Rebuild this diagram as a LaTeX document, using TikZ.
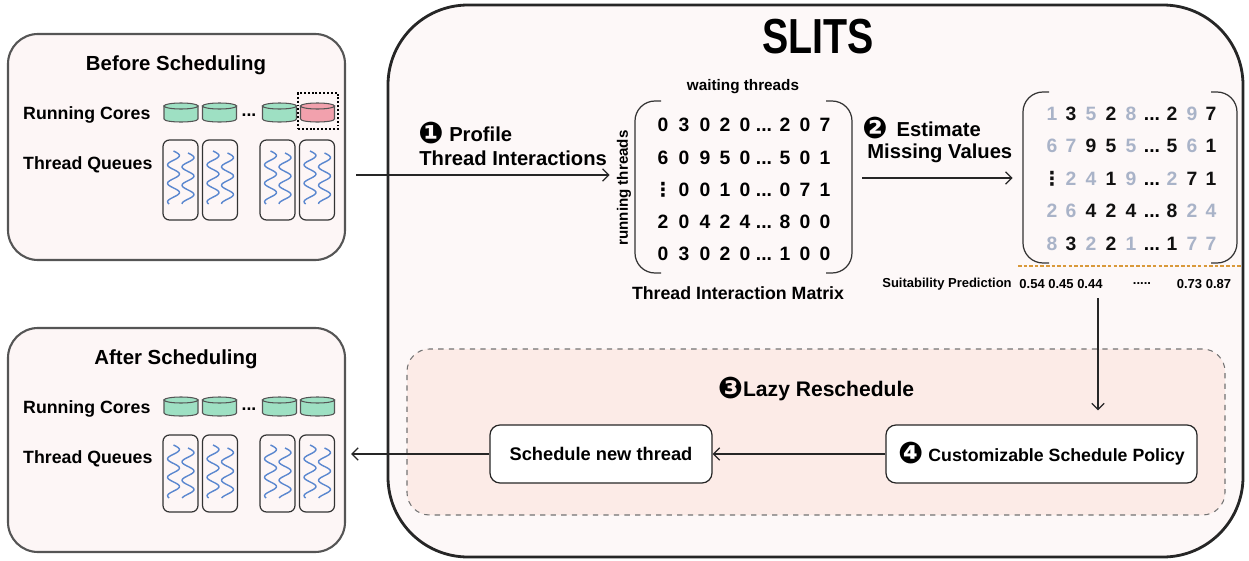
\documentclass[tikz,border=0pt]{standalone}
\usepackage{fontspec}
\usepackage{graphicx}
\setmainfont{Liberation Sans}
\newfontfamily\dejavu{DejaVu Sans}
\newcommand\circnum[1]{\raisebox{-0.12em}{\dejavu\fontsize{17}{17}\selectfont #1}}
\usetikzlibrary{arrows.meta}
\definecolor{boxline}{HTML}{555555}
\definecolor{panelfill}{HTML}{FDF6F6}
\definecolor{slitsfill}{HTML}{FDF8F8}
\definecolor{lazyfill}{HTML}{FCEBE7}
\definecolor{coregreen}{HTML}{9EE0C3}
\definecolor{corered}{HTML}{F2A1AD}
\definecolor{wavecol}{HTML}{5A87CF}
\definecolor{cg}{HTML}{A9B3C8}
\definecolor{ck}{HTML}{111111}
\definecolor{orangedash}{HTML}{D9993A}
\tikzset{
  pics/core/.style={code={
    \filldraw[fill=#1, draw=boxline, line width=0.6pt]
      (-17,-6) -- (-17,7) .. controls (-17,11) and (17,11) .. (17,7) -- (17,-6) -- cycle;
    \filldraw[fill=#1, draw=boxline, line width=0.6pt] (0,-6) ellipse [x radius=17, y radius=3];
  }},
  pics/wave/.style={code={
    \draw[wavecol, line width=0.8pt] plot[smooth, domain=0:#1, samples=40] ({6*sin(\x*19.5)},\x);
  }}
}
\begin{document}
\begin{tikzpicture}[x=0.02cm,y=-0.02cm, font=\bfseries,
  panel/.style={draw=boxline, line width=1.2pt, fill=panelfill, rounded corners=0.6cm, inner sep=0},
  title/.style={font=\bfseries\fontsize{11.6}{14}\selectfont},
  rowlab/.style={font=\bfseries\fontsize{10.1}{12}\selectfont, anchor=west},
  queue/.style={draw=black!80, line width=0.7pt, rounded corners=0.13cm, minimum width=35*0.02cm, inner sep=0},
  steplab/.style={font=\bfseries\fontsize{11.5}{14}\selectfont, anchor=west, inner sep=0},
  num/.style={font=\bfseries\fontsize{11}{13}\selectfont, inner sep=0, anchor=base},
  paren/.style={draw=black!80, line width=0.7pt, rounded corners=0.4cm},
  arr/.style={draw=black!85, line width=0.75pt, -{Straight Barb[length=3.5pt,width=7pt]}},
  inbox/.style={draw=black!85, line width=0.7pt, fill=white, rounded corners=0.2cm, minimum height=58*0.02cm, inner sep=0},
  small/.style={font=\bfseries\fontsize{7.4}{9}\selectfont, inner sep=0}
]
\useasboundingbox (0,0) rectangle (1249,561);

% ---------- SLITS main box ----------
\node[draw=black!85, line width=1.6pt, fill=slitsfill, rounded corners=1.6cm, inner sep=0,
      minimum width=855*0.02cm, minimum height=552*0.02cm] (slits) at (815.5,281) {};
\node[font=\bfseries\fontsize{28}{30}\selectfont] (slitstitle) at (818,37) {\scalebox{0.8}[1]{SLITS}};

% ---------- Before panel ----------
\node[panel, minimum width=337*0.02cm, minimum height=226*0.02cm] (before) at (176.5,147) {};
\node[title] (beforetitle) at (176,65) {Before Scheduling};
\node[rowlab] (brc) at (17,115) {Running Cores};
\node[rowlab] (btq) at (17,165) {Thread Queues};
\pic at (181,112) {core=coregreen};
\pic at (219.5,112) {core=coregreen};
\node[font=\bfseries\fontsize{10}{12}\selectfont, anchor=base, inner sep=0] (bdots) at (249,116) {...};
\pic at (279.5,112) {core=coregreen};
\pic at (317.5,112) {core=corered};
\node[draw=black, line width=0.9pt, dash pattern=on 1.1pt off 1.1pt, minimum width=40*0.02cm,
      minimum height=36*0.02cm, inner sep=0] (sel) at (318,111) {};
\foreach \qx [count=\i] in {180.5,220,277.5,317}{
  \node[queue, minimum height=80*0.02cm] (bq\i) at (\qx,180) {};
  \pic at (\qx-7,151) {wave=53};
  \pic at (\qx+7.5,153) {wave=51};
}

% ---------- After panel ----------
\node[panel, minimum width=337*0.02cm, minimum height=224*0.02cm] (after) at (176.5,440) {};
\node[title] (aftertitle) at (176,359) {After Scheduling};
\node[rowlab] (arc) at (17,409) {Running Cores};
\node[rowlab] (atq) at (17,459) {Thread Queues};
\pic at (181,406) {core=coregreen};
\pic at (219.5,406) {core=coregreen};
\node[font=\bfseries\fontsize{10}{12}\selectfont, anchor=base, inner sep=0] (adots) at (249,410) {...};
\pic at (279.5,406) {core=coregreen};
\pic at (317.5,406) {core=coregreen};
\foreach \qx [count=\i] in {180.5,220,277.5,317}{
  \node[queue, minimum height=77*0.02cm] (aq\i) at (\qx,473.5) {};
  \pic at (\qx-7,445) {wave=53};
  \pic at (\qx+7.5,448) {wave=50};
}

% ---------- Matrix 1 ----------
\node[inner sep=0, minimum width=217*0.02cm, minimum height=172*0.02cm] (m1) at (743.5,187) {};
\draw[paren] (661,101) -- (635,101) -- (635,273) -- (661,273);
\draw[paren] (826,101) -- (852,101) -- (852,273) -- (826,273);
\node[font=\bfseries\fontsize{8.7}{10}\selectfont] (wt) at (743,87) {waiting threads};
\node[font=\bfseries\fontsize{8.6}{10}\selectfont, rotate=90] (rt) at (624,188) {running threads};
\node[font=\bfseries\fontsize{10.1}{12}\selectfont] (tim) at (738,293) {Thread Interaction Matrix};
\foreach \row [count=\r] in {{0,3,0,2,0,2,0,7},{6,0,9,5,0,5,0,1},{{\dejavu ⋮},0,0,1,0,0,7,1},{2,0,4,2,4,8,0,0},{0,3,0,2,0,1,0,0}}{
  \pgfmathsetmacro\yy{125+(\r-1)*32+7}
  \foreach \v [count=\c] in \row {
    \pgfmathsetmacro\xx{{663,684,705,725,745,785,805,825}[\c-1]}
    \node[num] (ma\r-\c) at (\xx,\yy) {\v};
  }
  \node[num] (ma\r-d) at (764,\yy) {...};
}

% ---------- Matrix 2 ----------
\node[inner sep=0, minimum width=214*0.02cm, minimum height=171*0.02cm] (m2) at (1130,177.5) {};
\draw[paren] (1049,92) -- (1023,92) -- (1023,263) -- (1049,263);
\draw[paren] (1211,92) -- (1237,92) -- (1237,263) -- (1211,263);
\foreach \row [count=\r] in {
  {cg/1,ck/3,cg/5,ck/2,cg/8,ck/2,cg/9,ck/7},
  {cg/6,cg/7,ck/9,ck/5,cg/5,ck/5,cg/6,ck/1},
  {ck/{\dejavu ⋮},cg/2,cg/4,ck/1,cg/9,cg/2,ck/7,ck/1},
  {cg/2,cg/6,ck/4,ck/2,ck/4,ck/8,cg/2,cg/4},
  {cg/8,ck/3,cg/2,ck/2,cg/1,ck/1,cg/7,cg/7}}{
  \pgfmathsetmacro\yy{113+(\r-1)*32.5+7}
  \foreach \col/\v [count=\c] in \row {
    \pgfmathsetmacro\xx{{1052,1071,1091,1111,1131,1172,1192,1211}[\c-1]}
    \node[num, text=\col] (mb\r-\c) at (\xx,\yy) {\v};
  }
  \node[num] (mb\r-d) at (1152,\yy) {...};
}
\draw[orangedash, line width=0.6pt, dash pattern=on 2pt off 1.2pt] (1018,266) -- (1242,266);
\node[small] (sp) at (947,284) {Suitability Prediction};
\node[small] (v1) at (1061,284) {0.54 0.45 0.44};
\node[small] (v2) at (1142,284) {.....};
\node[small] (v3) at (1204,284) {0.73 0.87};

% ---------- Step labels ----------
\node[steplab] (s1a) at (418,133) {\circnum{❶} Profile};
\node[steplab] (s1b) at (419,158) {Thread Interactions};
\node[steplab] (s2a) at (862,128) {\circnum{❷}\, Estimate};
\node[steplab] (s2b) at (867,153) {Missing Values};

% ---------- Lazy reschedule ----------
\node[draw=black!55, line width=0.6pt, dashed, fill=lazyfill, rounded corners=0.45cm, inner sep=0,
      minimum width=818*0.02cm, minimum height=166*0.02cm] (lazy) at (816,432) {};
\node[font=\bfseries\fontsize{12}{14}\selectfont] (lazytitle) at (816,389) {\circnum{❸}Lazy Reschedule};
\node[inbox, minimum width=222*0.02cm, font=\bfseries\fontsize{10.4}{12}\selectfont] (sched) at (601,454) {Schedule new thread};
\node[inbox, minimum width=311*0.02cm, font=\bfseries\fontsize{10.1}{12}\selectfont] (policy) at (1041.5,454) {\circnum{❹} Customizable Schedule Policy};

% ---------- Connectors ----------
\coordinate (y175) at (0,175);
\coordinate (y178) at (0,178);
\coordinate (pd) at (1098,298);
\draw[arr, shorten <=0.2cm, shorten >=0.5cm] (before.east |- y175) -- (m1.west |- y175);
\draw[arr, shorten <=0.2cm, shorten >=0.2cm] (m1.east |- y178) -- (m2.west |- y178);
\draw[arr, shorten >=0.28cm] (pd) -- (pd |- policy.north);
\draw[arr] (policy.west) -- (sched.east);
\draw[arr, shorten >=0.1cm] (sched.west) -- (sched.west -| after.east);
\end{tikzpicture}
\end{document}
